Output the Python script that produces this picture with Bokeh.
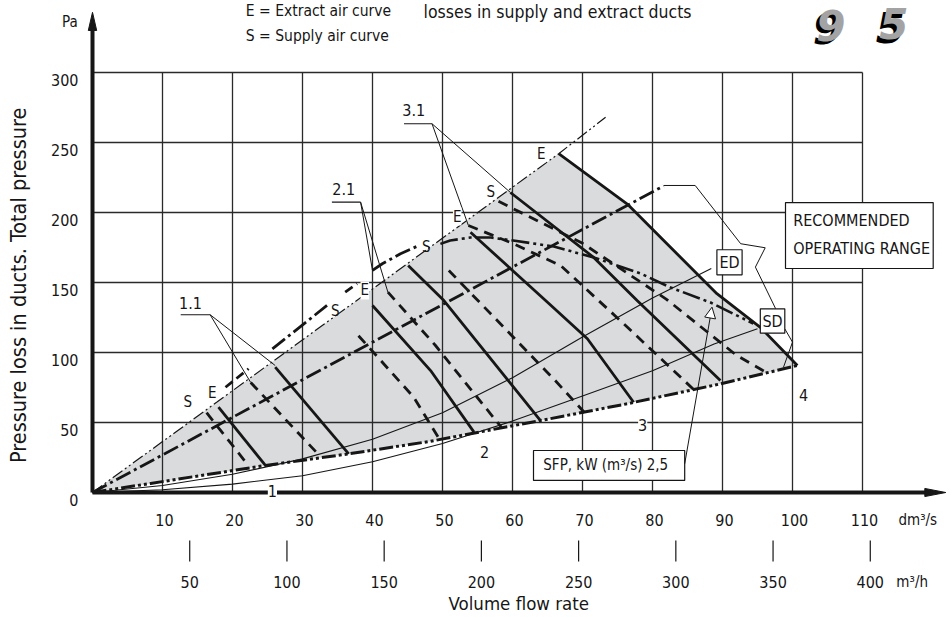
import math
from bokeh.plotting import figure
from bokeh.models import Range1d, Label, Arrow, NormalHead
from bokeh.embed import file_html
from bokeh.resources import INLINE

FONT = "Noto Sans ExtraCondensed, Noto Sans Condensed, DejaVu Sans Condensed, Roboto, sans-serif"
INK = "#161616"
GRAY_FILL = "#dadbdc"

# ---------------- axes / ticks ----------------
Q_TICKS = [10, 20, 30, 40, 50, 60, 70, 80, 90, 100, 110]          # dm3/s
P_TICKS = [0, 50, 100, 150, 200, 250, 300]                        # Pa
M3H_TICKS = [50, 100, 150, 200, 250, 300, 350, 400]              # m3/h
M3H_PER_DM3S = 3.6
Q_GRID_MAX = 110
P_GRID_MAX = 300
Q_AXIS_END = 121.9
P_AXIS_END = 343

# ---------------- operating range boundaries ----------------
UPPER_Q = [0, 66.6, 73.3]
UPPER_P = [0, 242, 268]
LOWER_Q = [0, 8.3, 24.7, 36.6, 48.3, 64.0, 76.4, 89.7, 100.7]
LOWER_P = [0, 6.5, 19.3, 27.6, 36.6, 51.4, 63.4, 77.6, 90.7]
STRAIGHT_Q = [0, 81.6]
STRAIGHT_P = [0, 219]

# thin duct curves (ED / SD)
THIN_A_Q = [0, 10, 20, 30, 40, 50, 60, 70, 80, 88.4]
THIN_A_P = [0, 5, 13, 24, 38, 57, 82, 111, 139, 160]
THIN_B_Q = [0, 10, 20, 30, 40, 50, 60, 70, 80, 88.8, 95]
THIN_B_P = [0, 2, 6, 12, 22, 35, 51, 69, 87, 106, 117]

# supply fan curve with peak (SD)
SD_Q = [49.7, 51.1, 54.0, 56.9, 60.1, 65.9, 71.6, 78.3, 82.6, 88.3, 94.4]
SD_P = [177.6, 180, 182.1, 182.1, 180, 175.7, 167.9, 156.4, 146.4, 135.7, 120.7]

# extract fan curves (solid) per step
E_CURVES = {
    "1":   ([18.0, 24.7], [60.9, 19.3]),
    "1.1": ([26.1, 36.6], [89.5, 27.6]),
    "2":   ([40.0, 48.3, 54.5], [133.6, 87.1, 43.1]),
    "2.1": ([45.1, 50.2, 64.0], [162.1, 137.1, 51.4]),
    "3":   ([54.0, 65.0, 70.7, 77.3], [185.9, 135.9, 109.8, 64.5]),
    "3.1": ([59.7, 71.6, 77.8, 89.7], [214.3, 167.9, 137.1, 80.0]),
    "4":   ([66.6, 76.4, 89.2, 95.4, 100.7], [242, 206, 142, 118, 90.7]),
}
# supply fan curves (dashed) per step
S_CURVES = {
    "1":   ([16.3, 22.0], [57, 21]),
    "1.1": ([22.6, 32.5], [78.6, 26]),
    "2":   ([38.0, 45.9, 49.7], [112, 68, 37]),
    "2.1": ([42.2, 49.0, 58.5], [143.1, 105, 46]),
    "3":   ([50.9, 66.1, 70.3], [158.6, 80, 57]),
    "3.1": ([53.7, 60.0, 66.9, 76.0, 86.0], [190.7, 178, 162, 120, 73]),
    "4":   ([58.0, 70.0, 82.0, 92.0, 96.5], [208, 178, 138, 98, 85]),
}
# curve pieces above the range
FRAG_E = [([19.0, 22.3], [75.2, 88.4]), ([36.1, 37.8], [143.1, 149.1])]
FRAG_S = [([25.7, 33.5], [102.6, 133.6]), ([40.0, 41.4, 44.0, 46.6], [158.6, 163.4, 170.5, 176.4])]

# ---------------- labels ----------------
S_LAB_Q = [13.6, 34.7, 47.7, 56.9]
S_LAB_P = [64.3, 129.3, 175.2, 214.3]
E_LAB_Q = [17.1, 38.9, 52.1, 64.1]
E_LAB_P = [71.4, 144.3, 197.1, 242.1]
STEP_NAMES = ["1", "2", "3", "4"]
STEP_Q = [25.7, 56.0, 78.6, 101.6]
STEP_P = [1.4, 28.6, 47.9, 69.3]
GRP_NAMES = ["1.1", "2.1", "3.1"]
GRP_Q = [14.0, 35.9, 45.9]
GRP_P = [135.5, 217.1, 272.9]
GRP_UL_Q0 = [12.6, 34.2, 44.5]
GRP_UL_Q1 = [16.8, 38.3, 48.5]
GRP_UL_P = [127.0, 207.4, 263.4]
GRP_TARGETS = [[(22.6, 78.6), (26.1, 90.7)],
               [(40.0, 158.6), (42.2, 143.1)],
               [(53.7, 190.7), (59.7, 214.3)]]
ZIGZAG_Q = [81.6, 86.1, 92.6, 96.1, 94.7, 97.6]
ZIGZAG_P = [219.3, 219.3, 177.7, 174.8, 161.0, 131.2]
SD_LEAD_Q = [98.9, 100.0, 98.7]
SD_LEAD_P = [116.9, 107.4, 89.3]
SFP_ARROW = (84.6, 20.5, 88.5, 132.4)

# rows below the flow axis (Pa units below zero)
ROW1_P = -19.3
TICK2_P = (-34.3, -49.3)
ROW2_P = -63.6
XTITLE_P = -79.3

X_RANGE = (-13.143, 122.857)
Y_RANGE = (-89.286, 351.43)

p = figure(width=952, height=617, x_range=Range1d(*X_RANGE), y_range=Range1d(*Y_RANGE),
           x_axis_type=None, y_axis_type=None, toolbar_location=None, output_backend="svg",
           min_border_left=0, min_border_right=0, min_border_top=0, min_border_bottom=0)
p.outline_line_color = None
p.background_fill_color = "white"
p.border_fill_color = "white"

# gray operating range
poly_q = UPPER_Q[:2] + E_CURVES["4"][0][1:] + LOWER_Q[-2::-1]
poly_p = UPPER_P[:2] + E_CURVES["4"][1][1:] + LOWER_P[-2::-1]
p.patch(poly_q, poly_p, fill_color=GRAY_FILL, line_color=None)

# grid
p.segment(x0=Q_TICKS, y0=[0] * len(Q_TICKS), x1=Q_TICKS, y1=[P_GRID_MAX] * len(Q_TICKS),
          line_color="#2a2a2a", line_width=1.3)
hp = P_TICKS[1:]
p.segment(x0=[0] * len(hp), y0=hp, x1=[Q_GRID_MAX] * len(hp), y1=hp,
          line_color="#2a2a2a", line_width=1.3)

# thin lines
p.line(UPPER_Q, UPPER_P, line_color=INK, line_width=1.2, line_dash="12 3 2 3 2 3")
p.line(THIN_A_Q, THIN_A_P, line_color=INK, line_width=1.1)
p.line(THIN_B_Q, THIN_B_P, line_color=INK, line_width=1.1)

# fan curves
for k, (qq, pp) in S_CURVES.items():
    p.line(qq, pp, line_color=INK, line_width=2.8, line_dash="10 7")
for k, (qq, pp) in E_CURVES.items():
    p.line(qq, pp, line_color=INK, line_width=2.8)
for qq, pp in FRAG_E:
    p.line(qq, pp, line_color=INK, line_width=2.8, line_dash="9 5")
for qq, pp in FRAG_S:
    p.line(qq, pp, line_color=INK, line_width=2.8, line_dash="16 4 3 4")

p.line(STRAIGHT_Q, STRAIGHT_P, line_color=INK, line_width=2.8, line_dash="16 4 3 4")
p.line(LOWER_Q, LOWER_P, line_color=INK, line_width=3, line_dash="14 3 3 3 3 3")
p.line(SD_Q, SD_P, line_color=INK, line_width=2.6, line_dash="18 4 3 4 3 4")

# leaders
for i in range(3):
    p.line([GRP_UL_Q0[i], GRP_UL_Q1[i]], [GRP_UL_P[i]] * 2, line_color=INK, line_width=1.1)
    for (tq, tp) in GRP_TARGETS[i]:
        p.line([GRP_UL_Q1[i], tq], [GRP_UL_P[i], tp], line_color=INK, line_width=1.0)
p.line(ZIGZAG_Q, ZIGZAG_P, line_color=INK, line_width=1.0)
p.line(SD_LEAD_Q, SD_LEAD_P, line_color=INK, line_width=1.0)
p.add_layout(Arrow(x_start=SFP_ARROW[0], y_start=SFP_ARROW[1], x_end=SFP_ARROW[2], y_end=SFP_ARROW[3],
                   line_color=INK, line_width=1.0,
                   end=NormalHead(size=11, fill_color="white", line_color=INK, line_width=1.0)))

# axes arrows
p.line([0, 0], [0, P_AXIS_END - 9], line_color=INK, line_width=4)
p.patch([-0.6, 0, 0.6], [P_AXIS_END - 13, P_AXIS_END, P_AXIS_END - 13], fill_color=INK, line_color=INK)
p.line([0, Q_AXIS_END - 2], [0, 0], line_color=INK, line_width=4)
p.patch([Q_AXIS_END - 3, Q_AXIS_END, Q_AXIS_END - 3], [2.9, 0, -2.9], fill_color=INK, line_color=INK)

# m3/h tick marks
m3h_q = [m / M3H_PER_DM3S for m in M3H_TICKS]
p.segment(x0=m3h_q, y0=[TICK2_P[0]] * len(m3h_q), x1=m3h_q, y1=[TICK2_P[1]] * len(m3h_q),
          line_color=INK, line_width=1.2)

# boxes
def box(q0, q1, p0, p1):
    p.quad(left=[q0], right=[q1], bottom=[p0], top=[p1], fill_color="white",
           line_color=INK, line_width=1.2)

box(99.0, 120.1, 160.0, 207.1)
box(89.2, 92.8, 155.5, 173.4)
box(95.4, 98.9, 113.8, 131.2)
box(63.0, 84.6, 8.6, 30.0)


def lab(x, y, text, size="16px", align="center", bg=None, color=INK,
        angle=0.0, font=FONT, style="normal"):
    p.add_layout(Label(x=x, y=y, text=text, text_font=font, text_font_size=size,
                       text_align=align, text_baseline="middle", text_color=color,
                       background_fill_color=bg, angle=angle, text_font_style=style))


lab(100.1, 194.3, "RECOMMENDED", size="16px", align="left")
lab(100.1, 174.3, "OPERATING RANGE", size="16px", align="left")
lab(91.0, 164.5, "ED", size="16px")
lab(97.15, 122.5, "SD", size="16px")
lab(64.4, 19.3, "SFP, kW (m³/s)  2,5", size="15px", align="left")

for q, pp in zip(S_LAB_Q, S_LAB_P):
    lab(q, pp, "S", size="15px")
for q, pp in zip(E_LAB_Q, E_LAB_P):
    lab(q, pp, "E", size="15px", bg="white")
for t, q, pp in zip(STEP_NAMES, STEP_Q, STEP_P):
    lab(q, pp, t, size="16px", bg="white" if t in ("1", "3") else None)
for t, q, pp in zip(GRP_NAMES, GRP_Q, GRP_P):
    lab(q, pp, t, size="16px")

# header texts
lab(21.9, 343.6, "E = Extract air curve", size="15.5px", align="left")
lab(21.9, 326.4, "S = Supply air curve", size="15.5px", align="left")
lab(47.3, 342.9, "losses in supply and extract ducts", size="17.5px", align="left")
# logo
LOGO = "DejaVu Sans"
lab(102.9, 331.1, "9", size="42px", align="left", color="black", font=LOGO, style="bold italic")
lab(103.4, 333.6, "9", size="42px", align="left", color="#a3a3a3", font=LOGO, style="bold italic")
lab(111.9, 332.5, "5", size="42px", align="left", color="black", font=LOGO, style="bold italic")
lab(112.4, 335.0, "5", size="42px", align="left", color="#a3a3a3", font=LOGO, style="bold italic")

# y axis texts
for v in P_TICKS:
    lab(-2.0, v - 5.0, str(v), size="16px", align="right")
lab(-2.1, 336.1, "Pa", size="15px", align="right")
lab(-10.6, 148.0, "Pressure loss in ducts. Total pressure", size="21.5px", angle=math.pi / 2)

# x axis texts
for v in Q_TICKS:
    lab(v + 0.29, ROW1_P, str(v), size="16px")
lab(117.9, ROW1_P, "dm³/s", size="15px")
for m, q in zip(M3H_TICKS, m3h_q):
    lab(q, ROW2_P, str(m), size="16px")
lab(117.1, ROW2_P, "m³/h", size="15px")
lab(60.9, XTITLE_P, "Volume flow rate", size="18.5px")

open("out.html", "w").write(file_html(p, INLINE))
